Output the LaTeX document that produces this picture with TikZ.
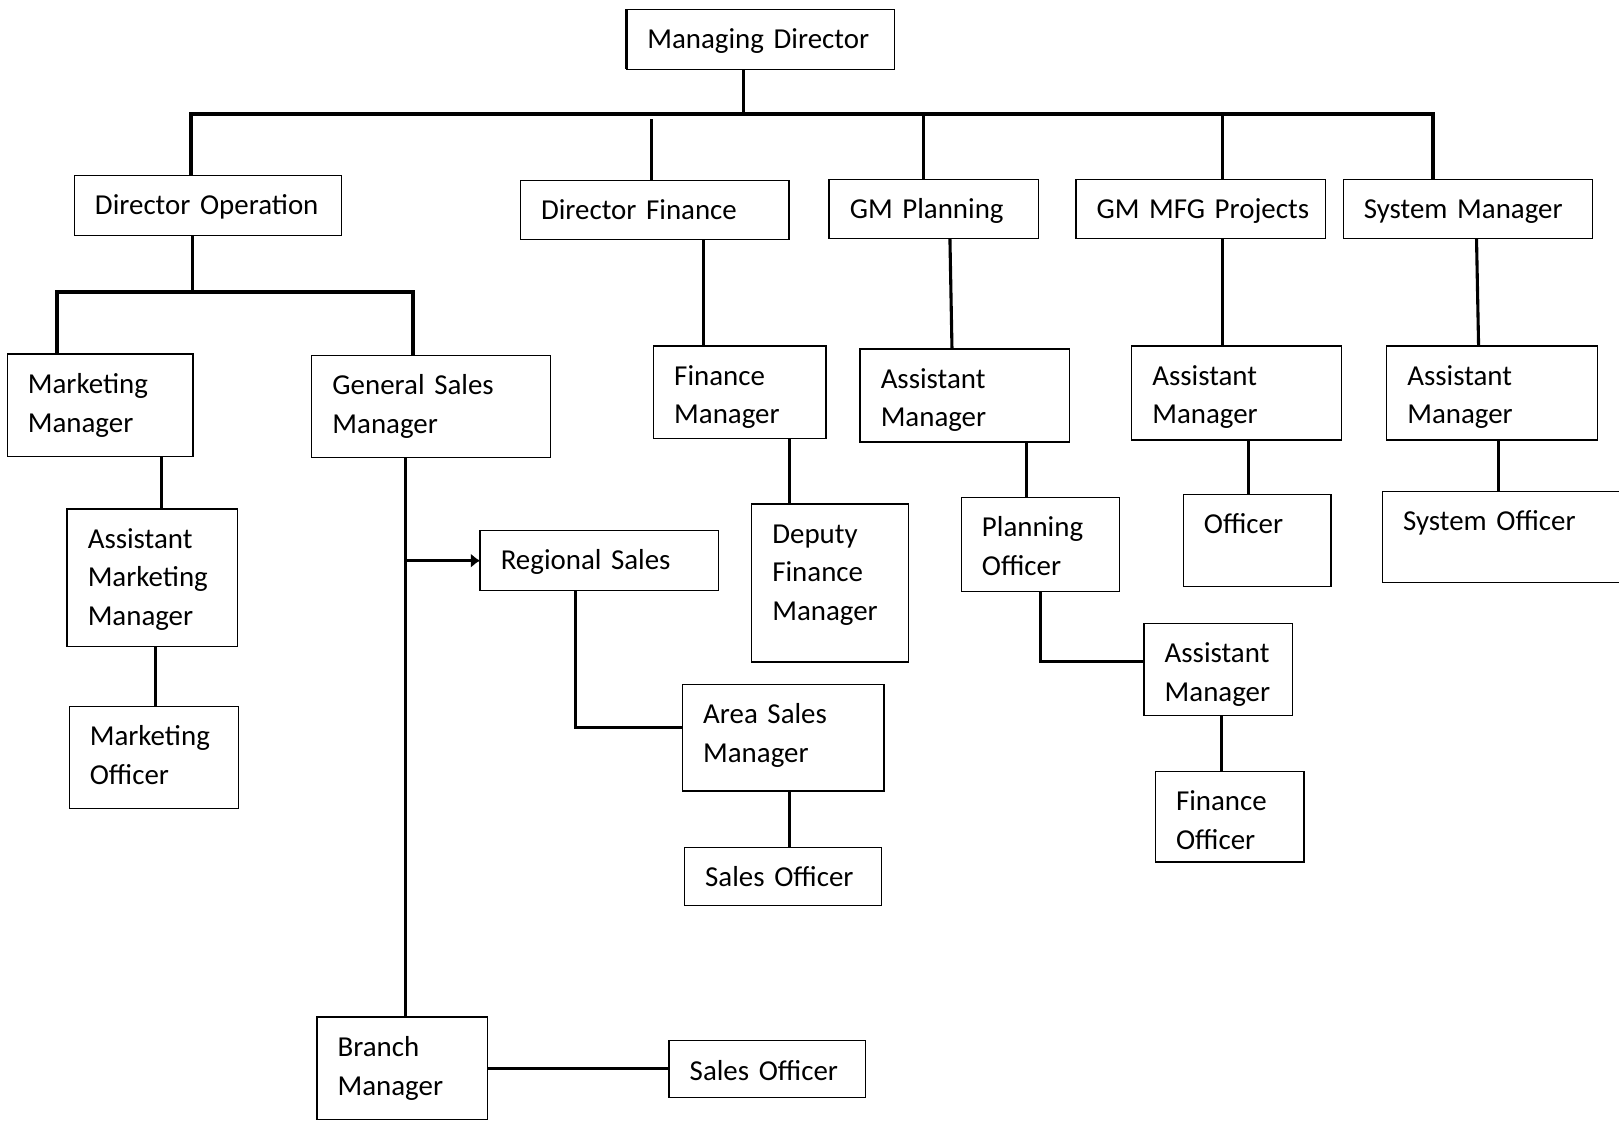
\documentclass[tikz,border=0pt]{standalone}
\usepackage{fontspec}
\setmainfont{Carlito}
\usetikzlibrary{arrows.meta}

\begin{document}
\begin{tikzpicture}[x=1pt, y=-1pt, font=\fontsize{28}{37.5}\selectfont, >={Latex[length=9pt, width=14pt]}]
\tikzset{every node/.style={inner xsep=20pt, inner ysep=0pt, outer sep=0pt}}

\tikzstyle{post}=[draw, rectangle, line width=1.3pt, anchor=north west, align=left, text height=38pt]
\tikzstyle{link}=[line width=3pt]
\tikzstyle{bus}=[line width=4pt]

\useasboundingbox (0,0) rectangle (1568,1085.7);

\node[post, text width=219pt, text depth=20pt] (md) at (607,9) {Managing~Director};

\node[post, text width=219pt, text depth=20pt] (dirop) at (72,170) {Director~Operation};
\node[post, text width=220pt, text depth=19pt] (dirfin) at (504,175) {Director~Finance};
\node[post, text width=163pt, text depth=19pt] (gmplan) at (803,174) {GM~Planning};
\node[post, text width=202pt, text depth=19pt] (gmmfg) at (1042,174) {GM~MFG~Projects};
\node[post, text width=201pt, text depth=19pt] (sysman) at (1301,174) {System~Manager};

\node[post, text width=140pt, text depth=61pt] (mktmgr) at (7,343) {Marketing\\Manager};
\node[post, text width=191pt, text depth=61pt] (gsm) at (302,344) {General~Sales\\Manager};
\node[post, text width=127pt, text depth=52pt] (finmgr) at (633,335) {Finance\\Manager};
\node[post, text width=163pt, text depth=52pt] (amplan) at (833,338) {Assistant\\Manager};
\node[post, text width=163pt, text depth=53pt] (ammfg) at (1096,335) {Assistant\\Manager};
\node[post, text width=164pt, text depth=53pt] (amsys) at (1343,335) {Assistant\\Manager};

\node[post, text width=125pt, text depth=95pt] (asstmkt) at (65,493) {Assistant\\Marketing\\Manager};
\node[post, text width=124pt, text depth=61pt] (mktoff) at (67,684) {Marketing\\Officer};
\node[post, text width=191pt, text depth=20pt] (regsales) at (465,514) {Regional~Sales};
\node[post, text width=112pt, text depth=115pt] (depfin) at (728,488) {Deputy\\Finance\\Manager};
\node[post, text width=113pt, text depth=53pt] (planoff) at (931,482) {Planning\\Officer};
\node[post, text width=103pt, text depth=51pt] (officer) at (1146,479) {Officer};
\node[post, text width=220pt, text depth=50pt] (sysoff) at (1339,476) {System~Officer};

\node[post, text width=104pt, text depth=51pt] (amfin) at (1108,604) {Assistant\\Manager};
\node[post, text width=155pt, text depth=65pt] (areasales) at (661,663) {Area~Sales\\Manager};
\node[post, text width=104pt, text depth=50pt] (finoff) at (1119,747) {Finance\\Officer};
\node[post, text width=151pt, text depth=18pt] (salesoff) at (663,821) {Sales~Officer};

\node[post, text width=125pt, text depth=61pt] (branch) at (307,985) {Branch\\Manager};
\node[post, text width=150pt, text depth=17pt] (salesoff2) at (648,1008) {Sales~Officer};

\draw[link] (md.north west) -- (md.south west);

\coordinate (bus west) at (185,110);
\coordinate (bus east) at (1388,110);
\draw[bus] (bus west |- dirop.north) -- (bus west) -- (bus east) -- (bus east |- sysman.north);
\draw[link] ([xshift=-16.5pt]md.south) -- ([xshift=-16.5pt]md.south |- bus west);
\draw[link] ([xshift=-3pt]dirfin.north) -- ++(0,-60);
\draw[link] ([xshift=-10.5pt]gmplan.north) -- ([xshift=-10.5pt]gmplan.north |- bus west);
\draw[link] ([xshift=21pt]gmmfg.north) -- ([xshift=21pt]gmmfg.north |- bus west);

\coordinate (ops west) at (55,283);
\coordinate (ops east) at (400,283);
\draw[bus] (ops west |- mktmgr.north) -- (ops west) -- (ops east) -- (ops east |- gsm.north);
\draw[link] ([xshift=-15.5pt]dirop.south) -- ([xshift=-15.5pt]dirop.south |- ops west);

\draw[link] ([xshift=47pt]dirfin.south) -- ([xshift=47pt]dirfin.south |- finmgr.north);
\draw[link] ([xshift=15.5pt]gmplan.south) -- ([xshift=-12.5pt]amplan.north);
\draw[link] ([xshift=21pt]gmmfg.south) -- ([xshift=21pt]gmmfg.south |- ammfg.north);
\draw[link] ([xshift=8.5pt]sysman.south) -- ([xshift=-13pt]amsys.north);

\draw[link] ([xshift=59pt]mktmgr.south) -- ([xshift=59pt]mktmgr.south |- asstmkt.north);
\draw[link] ([xshift=3.5pt]asstmkt.south) -- ([xshift=3.5pt]asstmkt.south |- mktoff.north);

\coordinate (gsm drop) at ([xshift=-24.5pt]gsm.south);
\draw[link] (gsm drop) -- (gsm drop |- branch.north);
\draw[link, ->] (gsm drop |- regsales.west) -- (regsales.west);
\draw[link] ([xshift=-23.5pt]regsales.south) |- ([yshift=9.5pt]areasales.west);
\draw[link] ([xshift=6.5pt]areasales.south) -- ([xshift=6.5pt]areasales.south |- salesoff.north);
\draw[link] (branch.east) -- (branch.east -| salesoff2.west);

\draw[link] ([xshift=48.5pt]finmgr.south) -- ([xshift=48.5pt]finmgr.south |- depfin.north);
\draw[link] ([xshift=59.5pt]amplan.south) -- ([xshift=59.5pt]amplan.south |- planoff.north);
\draw[link] (planoff.south) |- ([yshift=7.5pt]amfin.west);
\draw[link] ([xshift=3pt]amfin.south) -- ([xshift=3pt]amfin.south |- finoff.north);
\draw[link] ([xshift=11.5pt]ammfg.south) -- ([xshift=11.5pt]ammfg.south |- officer.north);
\draw[link] ([xshift=6pt]amsys.south) -- ([xshift=6pt]amsys.south |- sysoff.north);

\end{tikzpicture}
\end{document}
